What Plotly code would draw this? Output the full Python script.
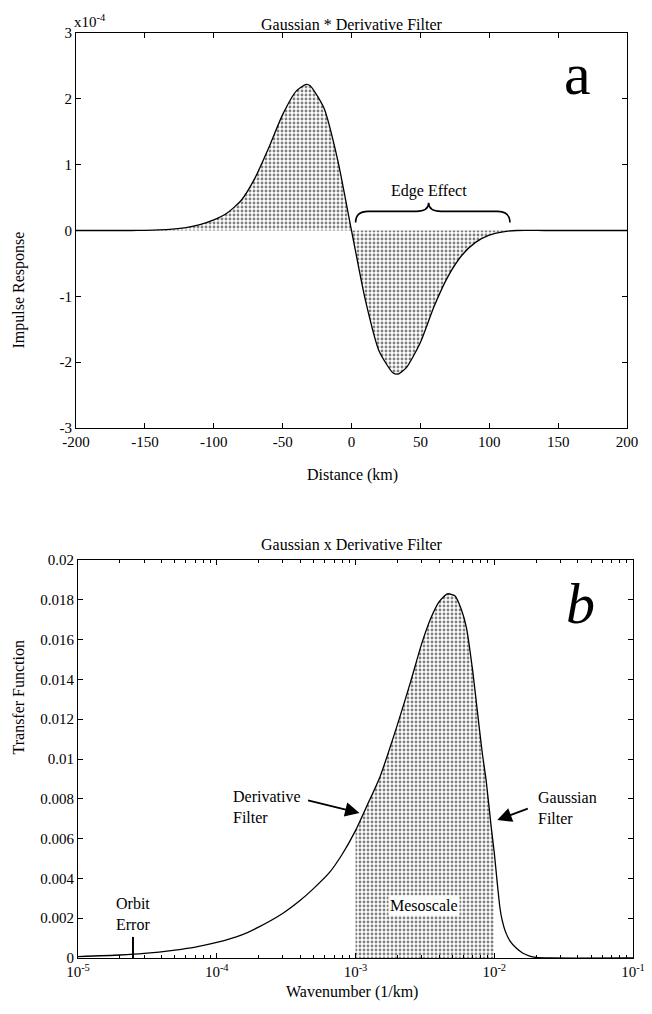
import plotly.graph_objects as go

# ---- Panel a: impulse response (units of 1e-4) ----
dist_km = [-200, -180, -160, -150, -140, -130, -120, -110, -100, -90, -80, -70, -60, -50, -40, -33, -30, -20, -10, 0,
           10, 20, 30, 34, 40, 50, 60, 70, 80, 90, 100, 110, 120, 140, 160, 180, 200]
impulse = [0, 0, 0, 0.003, 0.008, 0.02, 0.045, 0.09, 0.16, 0.27, 0.46, 0.8, 1.26, 1.76, 2.12, 2.22, 2.2, 1.86, 1.07, 0,
           -1.05, -1.83, -2.16, -2.18, -2.08, -1.7, -1.15, -0.7, -0.38, -0.18, -0.07, -0.02, 0, 0, 0, 0, 0]
x_ticks_a = [-200, -150, -100, -50, 0, 50, 100, 150, 200]
y_ticks_a = [-3, -2, -1, 0, 1, 2, 3]

# ---- Panel b: transfer function ----
wavenumber = [1e-5, 2e-5, 3e-5, 5e-5, 7e-5, 1e-4, 1.5e-4, 2e-4, 3e-4, 4e-4, 5e-4, 6.5e-4, 8e-4, 1e-3, 1.2e-3,
              1.5e-3, 2e-3, 2.5e-3, 3e-3, 3.5e-3, 4e-3, 4.6e-3, 5.2e-3, 5.8e-3, 6.3e-3, 7e-3, 7.5e-3, 8.2e-3,
              8.75e-3, 9.5e-3, 1e-2, 1.05e-2, 1.1e-2, 1.14e-2, 1.2e-2, 1.3e-2, 1.44e-2, 1.6e-2, 1.8e-2, 2e-2,
              2.5e-2, 1e-1]
transfer = [0.00007, 0.00015, 0.00023, 0.0004, 0.00055, 0.00078, 0.00115, 0.00155, 0.00225, 0.0029, 0.0035,
            0.0043, 0.0052, 0.0064, 0.0076, 0.0091, 0.0117, 0.0139, 0.0158, 0.0171, 0.0179, 0.0183, 0.0182,
            0.0175, 0.0166, 0.0144, 0.0126, 0.0103, 0.0089, 0.0066, 0.0053, 0.0038, 0.0025, 0.0019, 0.00135,
            0.00085, 0.0005, 0.00025, 0.0001, 0.00003, 0, 0]
meso_lo, meso_hi = 1e-3, 1e-2
orbit_k = 2.49e-5
x_ticks_b = [1e-5, 1e-4, 1e-3, 1e-2, 1e-1]
x_ticktext_b = ["10<sup>-5</sup>", "10<sup>-4</sup>", "10<sup>-3</sup>", "10<sup>-2</sup>", "10<sup>-1</sup>"]
minor_ticks_b = [m * d for d in (1e-5, 1e-4, 1e-3, 1e-2) for m in range(2, 10)]
y_ticks_b = [0, 0.002, 0.004, 0.006, 0.008, 0.01, 0.012, 0.014, 0.016, 0.018, 0.02]
y_ticktext_b = ["0", "0.002", "0.004", "0.006", "0.008", "0.01", "0.012", "0.014", "0.016", "0.018", "0.02"]

FONT = "Liberation Serif, Times New Roman, serif"
W, H = 652, 1014
pattern = dict(shape=".", fgcolor="black", bgcolor="white", size=4, solidity=0.4)

fig = go.Figure()
fig.add_trace(go.Scatter(x=dist_km, y=impulse, mode="lines",
                         line=dict(color="black", width=1.3, shape="spline", smoothing=0.6),
                         fill="tozeroy", fillcolor="white", fillpattern=pattern,
                         xaxis="x", yaxis="y", showlegend=False, hoverinfo="skip"))

meso_k = [k for k in wavenumber if meso_lo <= k <= meso_hi]
meso_t = [t for k, t in zip(wavenumber, transfer) if meso_lo <= k <= meso_hi]
fig.add_trace(go.Scatter(x=meso_k, y=meso_t, mode="lines",
                         line=dict(width=0, color="rgba(0,0,0,0)", shape="spline", smoothing=0.6),
                         fill="tozeroy", fillcolor="white", fillpattern=pattern,
                         xaxis="x2", yaxis="y2", showlegend=False, hoverinfo="skip"))
fig.add_trace(go.Scatter(x=wavenumber, y=transfer, mode="lines",
                         line=dict(color="black", width=1.3, shape="spline", smoothing=0.6),
                         xaxis="x2", yaxis="y2", showlegend=False, hoverinfo="skip"))

axis_common = dict(showgrid=False, zeroline=False, showline=True, linecolor="black", linewidth=1.2,
                   mirror="allticks", ticks="inside", ticklen=5, tickcolor="black", automargin=False,
                   tickfont=dict(family=FONT, size=15, color="black"))

fig.update_layout(
    width=W, height=H, margin=dict(l=0, r=0, t=0, b=0, autoexpand=False),
    paper_bgcolor="white", plot_bgcolor="white",
    font=dict(family=FONT, color="black"),
    xaxis=dict(domain=[76 / W, 627 / W], anchor="y", range=[-200, 200],
               tickvals=x_ticks_a, ticktext=[str(v) for v in x_ticks_a], **axis_common),
    yaxis=dict(domain=[1 - 428 / H, 1 - 33 / H], anchor="x", range=[-3, 3],
               tickvals=y_ticks_a, ticktext=[str(v) for v in y_ticks_a], **axis_common),
    xaxis2=dict(domain=[78 / W, 633 / W], anchor="y2", type="log", range=[-5, -1],
                tickvals=x_ticks_b, ticktext=x_ticktext_b,
                minor=dict(tickmode="array", tickvals=minor_ticks_b, ticks="inside", ticklen=3,
                           tickcolor="black", showgrid=False),
                **axis_common),
    yaxis2=dict(domain=[1 - 958 / H, 1 - 560 / H], anchor="x2", range=[0, 0.02],
                tickvals=y_ticks_b, ticktext=y_ticktext_b, **axis_common),
)

def pa(text, px, py, size=16, angle=0, xanchor="center"):
    fig.add_annotation(text=text, x=px / W, y=1 - py / H, xref="paper", yref="paper", xanchor=xanchor,
                       showarrow=False, textangle=angle, font=dict(family=FONT, size=size, color="black"))

pa("Gaussian * Derivative Filter", 352, 14)
pa("x10<sup>-4</sup>", 72, 10, 15, xanchor="left")
pa("Impulse Response", 18, 230, 16, -90)
pa("Distance (km)", 352, 475, 16)
pa("Gaussian x Derivative Filter", 352, 544)
pa("Transfer Function", 18, 757, 16, -90)
pa("Wavenumber (1/km)", 352, 1003, 16)

# panel a annotations
fig.add_annotation(text="a", x=164, y=2.38, xref="x", yref="y", showarrow=False,
                   font=dict(family=FONT, size=60, color="black"))
fig.add_annotation(text="Edge Effect", x=56, y=0.6, xref="x", yref="y", showarrow=False,
                   font=dict(family=FONT, size=16, color="black"))
fig.add_shape(type="path", xref="x", yref="y",
              path="M 3,0.12 Q 3,0.29 12,0.29 L 47,0.29 Q 56,0.29 56,0.42 Q 56,0.29 65,0.29 "
                   "L 106,0.29 Q 115,0.29 115,0.12",
              line=dict(color="black", width=1.6))

# panel b annotations (annotation x in log10 units)
fig.add_annotation(text="<i>b</i>", x=-1.382, y=0.0178, xref="x2", yref="y2", showarrow=False,
                   font=dict(family=FONT, size=58, color="black"))
fig.add_annotation(text="Derivative<br>Filter", x=-3.899, y=0.00759, xref="x2", yref="y2",
                   xanchor="left", align="left", showarrow=False,
                   font=dict(family=FONT, size=16, color="black"))
fig.add_annotation(text="", x=-2.971, y=0.00729, xref="x2", yref="y2", ax=-53, ay=-13,
                   showarrow=True, arrowhead=2, arrowsize=1.6, arrowwidth=1.8, arrowcolor="black")
fig.add_annotation(text="Gaussian<br>Filter", x=-1.698, y=0.00754, xref="x2", yref="y2",
                   xanchor="left", align="left", showarrow=False,
                   font=dict(family=FONT, size=16, color="black"))
fig.add_annotation(text="", x=-1.978, y=0.00693, xref="x2", yref="y2", ax=32, ay=-12,
                   showarrow=True, arrowhead=2, arrowsize=1.6, arrowwidth=1.8, arrowcolor="black")
fig.add_annotation(text="Mesoscale", x=-2.504, y=0.00266, xref="x2", yref="y2", showarrow=False,
                   bgcolor="white", font=dict(family=FONT, size=16, color="black"))
fig.add_annotation(text="Orbit<br>Error", x=-4.604, y=0.00221, xref="x2", yref="y2", showarrow=False,
                   font=dict(family=FONT, size=16, color="black"))
fig.add_shape(type="line", xref="x2", yref="y2", x0=orbit_k, x1=orbit_k, y0=0, y1=0.00106,
              line=dict(color="black", width=2))

fig.write_html("out.html")
